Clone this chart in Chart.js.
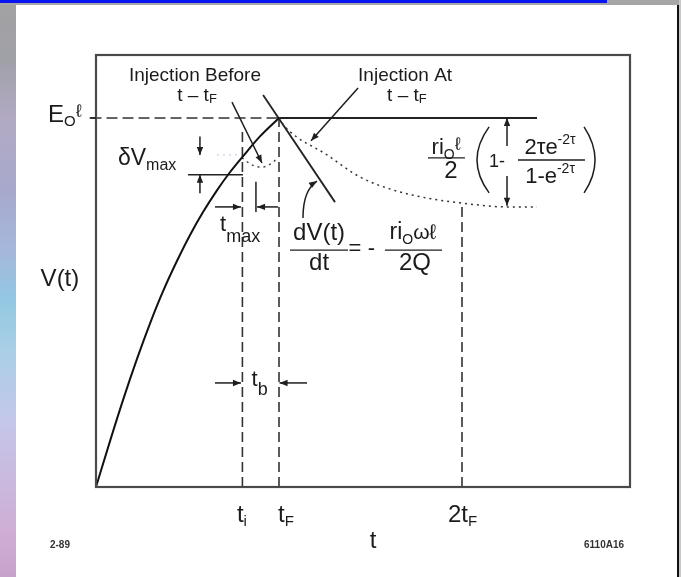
<!DOCTYPE html>
<html><head><meta charset="utf-8">
<script src="https://cdn.jsdelivr.net/npm/chart.js@4.4.0/dist/chart.umd.min.js"></script>
<style>
html,body{margin:0;padding:0;background:#fff;width:681px;height:577px;overflow:hidden;position:relative}
#strip{position:absolute;left:0;top:0;width:16px;height:577px;background:linear-gradient(to bottom,#a2a2a2 0px,#a0a0a8 60px,#b2aac4 120px,#a7a9cc 190px,#a5b7dc 250px,#93c8e2 300px,#a9cfe6 350px,#c4c7ea 420px,#c9bce0 470px,#cfaed4 530px,#c7a3cc 577px)}
#topbar{position:absolute;left:0;top:0;width:681px;height:5px;background:#a6a6a6}
#blue{position:absolute;left:0;top:0;width:607px;height:3px;background:#0a14f0}
#rline{position:absolute;left:677px;top:5px;width:2px;height:572px;background:#111}
#rgap{position:absolute;left:679px;top:0;width:2px;height:577px;background:#c8c8c8}
canvas{position:absolute;left:0;top:0}
</style></head>
<body>
<div id="strip"></div><div id="topbar"></div><div id="blue"></div>
<canvas id="c" width="681" height="577"></canvas>
<div id="rline"></div><div id="rgap"></div>
<script>
// ---- data (t in units of t_F, V in units of E0·l) ----
const curveT = [0, 0.077, 0.148, 0.224, 0.295, 0.366, 0.443, 0.514, 0.585, 0.661, 0.732, 0.803, 0.896, 1.0];
const curveV = [0, 0.125, 0.236, 0.347, 0.443, 0.530, 0.613, 0.683, 0.745, 0.804, 0.853, 0.896, 0.950, 1.0];
const decayT = [1.0, 1.033, 1.262, 1.443, 1.623, 1.809, 1.989, 2.246, 2.41];
const decayV = [1.0, 0.976, 0.900, 0.840, 0.805, 0.783, 0.770, 0.759, 0.759];
const dipT = [0.798, 0.852, 0.907, 0.962, 0.995];
const dipV = [0.892, 0.873, 0.867, 0.878, 0.894];
const tangentT = [0.913, 1.306];
const tangentV = [1.062, 0.772];
const levelV = 1.0;          // E0·l
const asymptoteV = 0.762;
const tickT = [0.80, 1.0, 2.0];            // t_i, t_F, 2t_F
const tickLabels = [['t','i'], ['t','F'], ['2t','F']];
const tiTop = 0.973;
const dVmaxT = [0.503, 0.803];
const dVmaxV = 0.846;
const dVrefT = [0.661, 0.776];
const dVrefV = 0.900;

const FONT = '"Liberation Sans", Arial, Helvetica, sans-serif';
const INK = '#1b1b1b';

function ln(ts, vs, opt) {
  return Object.assign({
    data: ts.map((t, i) => ({x: t, y: vs[i]})),
    showLine: true, pointRadius: 0, borderColor: '#1a1a1a', borderWidth: 1.6,
    fill: false, tension: 0, clip: false
  }, opt || {});
}

const datasets = [
  ln(curveT, curveV, {borderWidth: 2, cubicInterpolationMode: 'monotone', borderColor: '#111'}),
  ln(decayT, decayV, {borderDash: [2, 4], borderWidth: 1.5, cubicInterpolationMode: 'monotone', borderColor: '#333'}),
  ln(dipT, dipV, {borderDash: [2, 4], borderWidth: 1.5, cubicInterpolationMode: 'monotone', borderColor: '#444'}),
  ln([-0.03, tickT[1]], [levelV, levelV], {borderDash: [11, 5], borderColor: '#333'}),
  ln([tickT[1], decayT[decayT.length - 1]], [levelV, levelV], {borderWidth: 1.8, borderColor: '#222'}),
  ln([tickT[0], tickT[0]], [0, tiTop], {borderDash: [10, 5], borderColor: '#333'}),
  ln([tickT[1], tickT[1]], [0, levelV], {borderDash: [10, 5], borderColor: '#333'}),
  ln([tickT[2], tickT[2]], [0, asymptoteV], {borderDash: [10, 5], borderColor: '#333'}),
  ln(tangentT, tangentV, {borderWidth: 1.8, borderColor: '#222'}),
  ln(dVmaxT, [dVmaxV, dVmaxV], {borderWidth: 1.6, borderColor: '#222'}),
  ln(dVrefT, [dVrefV, dVrefV], {borderDash: [2, 4], borderWidth: 1.2, borderColor: '#c9d2e2'})
];

const annot = {
  id: 'annot',
  afterDatasetsDraw(chart) {
    const ctx = chart.ctx, a = chart.chartArea;
    const X = v => chart.scales.x.getPixelForValue(v);
    const Y = v => chart.scales.y.getPixelForValue(v);
    ctx.save();
    // frame
    ctx.strokeStyle = '#4a4a4a'; ctx.lineWidth = 2.2; ctx.setLineDash([]);
    ctx.strokeRect(a.left, a.top, a.right - a.left, a.bottom - a.top);

    ctx.strokeStyle = '#1e1e1e'; ctx.fillStyle = '#1e1e1e'; ctx.lineWidth = 1.5;
    function seg(x1, y1, x2, y2) { ctx.beginPath(); ctx.moveTo(x1, y1); ctx.lineTo(x2, y2); ctx.stroke(); }
    function head(x2, y2, ang, L, W) {
      L = L || 8; W = W || 3.2;
      ctx.beginPath();
      ctx.moveTo(x2, y2);
      ctx.lineTo(x2 - L * Math.cos(ang) + W * Math.sin(ang), y2 - L * Math.sin(ang) - W * Math.cos(ang));
      ctx.lineTo(x2 - L * Math.cos(ang) - W * Math.sin(ang), y2 - L * Math.sin(ang) + W * Math.cos(ang));
      ctx.closePath(); ctx.fill();
    }
    function arrow(u1, v1, u2, v2) {
      const x1 = X(u1), y1 = Y(v1), x2 = X(u2), y2 = Y(v2);
      seg(x1, y1, x2, y2);
      head(x2, y2, Math.atan2(y2 - y1, x2 - x1));
    }
    // Injection Before pointer
    arrow(0.743, 1.043, 0.907, 0.878);
    // Injection At pointer
    arrow(1.432, 1.081, 1.175, 0.938);
    // curved pointer to the tangent
    {
      const sx = X(1.131), sy = Y(0.729), cx = X(1.131), cy = Y(0.805), ex = X(1.208), ey = Y(0.829);
      ctx.beginPath(); ctx.moveTo(sx, sy); ctx.quadraticCurveTo(cx, cy, ex, ey); ctx.stroke();
      head(ex, ey, Math.atan2(ey - cy, ex - cx));
    }
    // delta V max arrows
    arrow(0.568, 0.950, 0.568, dVrefV);
    arrow(0.568, 0.796, 0.568, dVmaxV);
    // t max arrows
    arrow(0.650, 0.759, 0.792, 0.759);
    arrow(0.995, 0.759, 0.880, 0.759);
    seg(X(0.874), Y(0.827), X(0.874), Y(0.745));
    // t_b arrows
    arrow(0.650, 0.282, 0.792, 0.282);
    arrow(1.153, 0.282, 1.003, 0.282);
    // right formula arrows
    arrow(2.246, 0.924, 2.246, levelV);
    arrow(2.246, 0.843, 2.246, asymptoteV);
    // tick at E0l left of frame
    seg(X(-0.035), Y(levelV), X(0), Y(levelV));

    // ---- text ----
    ctx.fillStyle = INK; ctx.textBaseline = 'middle'; ctx.textAlign = 'left';
    function rich(parts, x, y, align) {
      let w = 0;
      parts.forEach(p => { ctx.font = p[1] + 'px ' + FONT; p.w = ctx.measureText(p[0]).width; w += p.w; });
      let cx = align === 'left' ? x : x - w / 2;
      parts.forEach(p => { ctx.font = p[1] + 'px ' + FONT; ctx.fillText(p[0], cx, y + (p[2] || 0)); cx += p.w; });
      return w;
    }
    function txt(s, size, u, v) { rich([[s, size]], X(u), Y(v)); }
    function bar(u1, u2, v) { ctx.lineWidth = 1.4; seg(X(u1), Y(v), X(u2), Y(v)); }

    txt('Injection Before', 19, 0.541, 1.114);
    rich([['t \u2013 t', 19], ['F', 13, 4]], X(0.552), Y(1.060));
    txt('Injection At', 19, 1.689, 1.114);
    rich([['t \u2013 t', 19], ['F', 13, 4]], X(1.699), Y(1.060));

    rich([['E', 24], ['O', 15, 7], ['\u2113', 18, -3]], X(-0.262), Y(1.008), 'left');
    txt('V(t)', 24, -0.197, 0.564);
    rich([['\u03B4V', 23], ['max', 16, 7]], X(0.120), Y(0.889), 'left');
    rich([['t', 22], ['max', 18, 12]], X(0.678), Y(0.710), 'left');
    rich([['t', 22], ['b', 18, 10]], X(0.850), Y(0.290), 'left');

    txt('dV(t)', 24, 1.219, 0.688);
    bar(1.060, 1.377, 0.642);
    txt('dt', 24, 1.219, 0.607);
    txt('=', 22, 1.415, 0.645);
    txt('-', 22, 1.505, 0.645);
    rich([['ri', 23], ['O', 14, 7], ['\u03C9\u2113', 21]], X(1.732), Y(0.688));
    bar(1.579, 1.891, 0.642);
    txt('2Q', 24, 1.743, 0.607);

    rich([['ri', 22], ['O', 14, 7], ['\u2113', 18, -3]], X(1.913), Y(0.919));
    bar(1.814, 2.016, 0.892);
    txt('2', 24, 1.940, 0.856);
    // parentheses
    ctx.lineWidth = 1.5;
    ctx.beginPath(); ctx.moveTo(X(2.148), Y(0.976)); ctx.quadraticCurveTo(X(2.016), Y(0.886), X(2.148), Y(0.797)); ctx.stroke();
    ctx.beginPath(); ctx.moveTo(X(2.667), Y(0.976)); ctx.quadraticCurveTo(X(2.787), Y(0.886), X(2.667), Y(0.797)); ctx.stroke();
    txt('1-', 18, 2.191, 0.881);
    rich([['2\u03C4e', 22], ['-2\u03C4', 14, -8]], X(2.481), Y(0.919));
    bar(2.306, 2.672, 0.886);
    rich([['1-e', 22], ['-2\u03C4', 14, -8]], X(2.481), Y(0.840));

    tickT.forEach((t, i) => {
      const lx = [0.770, 0.995, 1.923][i];
      rich([[tickLabels[i][0], 24], [tickLabels[i][1], 15, 7]], X(lx), Y(-0.076), 'left');
    });
    txt('t', 24, 1.514, -0.146);
    ctx.font = 'bold 10px ' + FONT; ctx.fillStyle = '#333'; ctx.textAlign = 'center';
    ctx.fillText('2-89', X(-0.197), Y(-0.157));
    ctx.fillText('6110A16', X(2.776), Y(-0.157));
    ctx.restore();
  }
};

new Chart(document.getElementById('c'), {
  type: 'scatter',
  data: {datasets},
  options: {
    responsive: false, animation: false, devicePixelRatio: 1,
    layout: {padding: {left: 96, right: 51, top: 55, bottom: 90}},
    scales: {
      x: {type: 'linear', display: false, min: 0, max: 2.918},
      y: {type: 'linear', display: false, min: 0, max: 1.1707}
    },
    plugins: {legend: {display: false}, tooltip: {enabled: false}},
    elements: {point: {radius: 0}}
  },
  plugins: [annot]
});
</script>
</body></html>
